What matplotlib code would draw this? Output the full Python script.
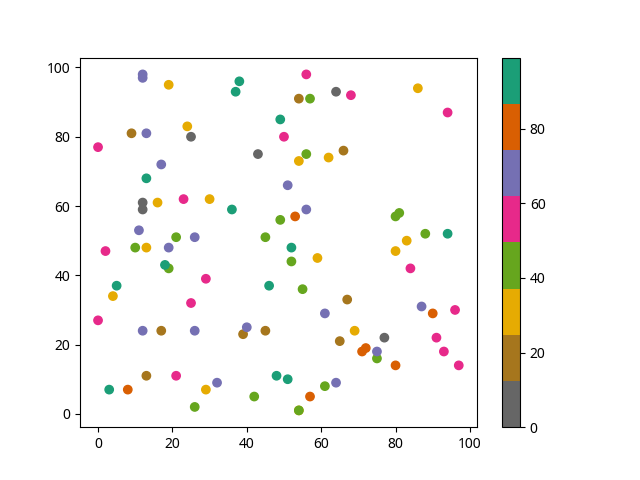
import numpy as np
import matplotlib
matplotlib.use('Agg')
import matplotlib.pyplot as plt

plt.rcParams['font.family'] = ['Noto Sans', 'DejaVu Sans']

# colour groups of the Dark2_r map, bottom to top
groups = ['gray', 'brown', 'yellow', 'green', 'pink', 'purple', 'orange', 'teal']

gray_x = [12, 12, 25, 43, 64, 77]
gray_y = [61, 59, 80, 75, 93, 22]
brown_x = [9, 13, 17, 39, 45, 54, 65, 66, 67]
brown_y = [81, 11, 24, 23, 24, 91, 21, 76, 33]
yellow_x = [4, 13, 16, 19, 24, 29, 30, 54, 54, 59, 62, 69, 80, 83, 86]
yellow_y = [34, 48, 61, 95, 83, 7, 62, 73, 1, 45, 74, 24, 47, 50, 94]
green_x = [10, 19, 21, 26, 42, 45, 49, 52, 55, 56, 57, 61, 75, 80, 81, 88, 54]
green_y = [48, 42, 51, 2, 5, 51, 56, 44, 36, 75, 91, 8, 16, 57, 58, 52, 1]
pink_x = [0, 0, 2, 21, 23, 25, 29, 50, 56, 68, 84, 91, 93, 94, 96, 97]
pink_y = [77, 27, 47, 11, 62, 32, 39, 80, 98, 92, 42, 22, 18, 87, 30, 14]
purple_x = [11, 12, 12, 12, 13, 17, 19, 26, 26, 32, 40, 51, 56, 61, 64, 75, 87]
purple_y = [53, 98, 97, 24, 81, 72, 48, 51, 24, 9, 25, 66, 59, 29, 9, 18, 31]
orange_x = [8, 53, 57, 71, 72, 80, 90]
orange_y = [7, 57, 5, 18, 19, 14, 29]
teal_x = [3, 5, 13, 18, 36, 37, 38, 46, 48, 49, 52, 51, 94]
teal_y = [7, 37, 68, 43, 59, 93, 96, 37, 11, 85, 48, 10, 52]

xs = [gray_x, brown_x, yellow_x, green_x, pink_x, purple_x, orange_x, teal_x]
ys = [gray_y, brown_y, yellow_y, green_y, pink_y, purple_y, orange_y, teal_y]

vmax = 99
x = np.concatenate([np.array(a, float) for a in xs])
y = np.concatenate([np.array(a, float) for a in ys])
c = np.concatenate([np.full(len(a), (k + 0.5) * vmax / len(groups)) for k, a in enumerate(xs)])

fig, ax = plt.subplots(figsize=(6.4, 4.8), dpi=100)
sc = ax.scatter(x, y, c=c, cmap='Dark2_r', vmin=0, vmax=vmax)
fig.colorbar(sc, ax=ax)
fig.savefig('out.png')
